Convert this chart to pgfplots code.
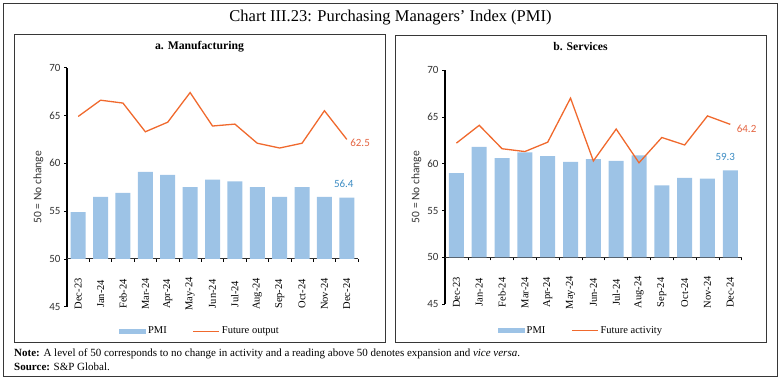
\documentclass[border=0pt]{standalone}
\usepackage{fontspec}
\setmainfont{Liberation Serif}
\newfontfamily\carlito{Carlito}
\usepackage{pgfplots}
\pgfplotsset{compat=1.18}
\definecolor{barblue}{RGB}{157,195,230}
\definecolor{lineor}{RGB}{240,105,45}
\definecolor{lblor}{RGB}{228,100,65}
\definecolor{lblblue}{RGB}{60,140,195}
\definecolor{frm}{RGB}{55,55,55}

\pgfplotsset{
  mainax/.style={scale only axis, anchor=south west,
    axis y line=left, axis x line=none,
    ymin=45, ymax=70, xmin=-0.5, xmax=12.5,
    ytick={45,50,...,70}, xtick=\empty,
    /pgf/number format/assume math mode=true,
    yticklabel style={font=\carlito\fontsize{11}{13}\selectfont, text=black!80},
    axis line style={-, line width=1.4pt, black},
    ytick style={line width=0.6pt, black},
    tick align=outside, major tick length=3pt,
    ylabel={50 = No change},
    ylabel style={font=\carlito\fontsize{11.5}{13}\selectfont, text=black!80, yshift=-1pt},
  },
  barax/.style={scale only axis, anchor=south west,
    axis x line=bottom, axis y line=none,
    ymin=50, ymax=70, xmin=-0.5, xmax=12.5,
    xtick={0,...,12}, ytick=\empty,
    xticklabels={Dec-23,Jan-24,Feb-24,Mar-24,Apr-24,May-24,Jun-24,Jul-24,Aug-24,Sep-24,Oct-24,Nov-24,Dec-24},
    major tick length=0pt,
    minor xtick={-0.5,0.5,...,12.5},
    minor tick length=3pt, tick align=outside,
    minor tick style={line width=0.6pt, black},
    axis line style={-, line width=0.9pt, black!80},
    xticklabel style={font=\fontsize{10.5}{12}\selectfont, yshift=-35pt, rotate=90, anchor=center},
    clip mode=individual,
    legend columns=2,
    legend style={draw=none, fill=none, anchor=center, font=\fontsize{10.5}{12}\selectfont,
      /tikz/every even column/.append style={column sep=24pt}},
  },
  barleg/.style={legend image code/.code={\fill[barblue] (0pt,-2.4pt) rectangle (27pt,2.4pt);}},
  lineleg/.style={legend image code/.code={\draw[lineor, line width=1.2pt] (0pt,0pt) -- (26pt,0pt);}},
}

\begin{document}
\begin{tikzpicture}
\useasboundingbox (0,0) rectangle (781pt,-380pt);
% frames
\draw[frm, line width=1pt] (3pt,-3pt) rectangle (777.5pt,-376.5pt);
\draw[frm, line width=1pt] (14pt,-34pt) rectangle (385pt,-342pt);
\draw[frm, line width=1pt] (395pt,-35pt) rectangle (766pt,-342pt);
% titles
\node[font=\fontsize{16.5}{19}\selectfont] at (390.5pt,-18pt) {Chart III.23: Purchasing Managers' Index (PMI)};
\node[font=\bfseries\fontsize{11.7}{13}\selectfont] at (199.5pt,-47pt) {a. Manufacturing};
\node[font=\bfseries\fontsize{11.7}{13}\selectfont] at (580.5pt,-47pt) {b. Services};
\node[anchor=west, font=\fontsize{11}{13}\selectfont, inner sep=0pt] at (14pt,-354pt) {\textbf{Note:} A level of 50 corresponds to no change in activity and a reading above 50 denotes expansion and \textit{vice versa}.};
\node[anchor=west, font=\fontsize{11}{13}\selectfont, inner sep=0pt] at (14pt,-366.5pt) {\textbf{Source:} S\&P Global.};

% ---------- a. Manufacturing ----------
\begin{axis}[mainax, at={(67pt,-306.7pt)}, width=291pt, height=239pt]
\end{axis}
\begin{axis}[barax, at={(67pt,-258.9pt)}, width=291pt, height=191.2pt,
  legend style={at={(0.457,-0.378)}}]
\addplot[barleg, ybar, bar width=15pt, bar shift=0pt, fill=barblue, draw=none] coordinates {
 (0,54.9) (1,56.5) (2,56.9) (3,59.1) (4,58.8) (5,57.5) (6,58.3) (7,58.1) (8,57.5) (9,56.5) (10,57.5) (11,56.5) (12,56.4)};
\addlegendentry{PMI}
\addplot[lineleg, lineor, line width=1.3pt, mark=none] coordinates {
 (0,64.9) (1,66.6) (2,66.3) (3,63.3) (4,64.3) (5,67.4) (6,63.9) (7,64.1) (8,62.1) (9,61.6) (10,62.1) (11,65.5) (12,62.5)};
\addlegendentry{Future output}
\node[anchor=west, font=\carlito\fontsize{11}{13}\selectfont, text=lblor, xshift=0pt, yshift=-3pt] at (axis cs:12,62.5) {62.5};
\node[anchor=south, font=\carlito\fontsize{11}{13}\selectfont, text=lblblue, xshift=-3pt, yshift=7pt] at (axis cs:12,56.4) {56.4};
\end{axis}

% ---------- b. Services ----------
\begin{axis}[mainax, at={(445pt,-304.3pt)}, width=296.7pt, height=234.3pt]
\end{axis}
\begin{axis}[barax, at={(445pt,-257.45pt)}, width=296.7pt, height=187.45pt,
  legend style={at={(0.458,-0.39)}}]
\addplot[barleg, ybar, bar width=15pt, bar shift=0pt, fill=barblue, draw=none] coordinates {
 (0,59.0) (1,61.8) (2,60.6) (3,61.2) (4,60.8) (5,60.2) (6,60.5) (7,60.3) (8,60.9) (9,57.7) (10,58.5) (11,58.4) (12,59.3)};
\addlegendentry{PMI}
\addplot[lineleg, lineor, line width=1.3pt, mark=none] coordinates {
 (0,62.2) (1,64.1) (2,61.6) (3,61.3) (4,62.3) (5,67.0) (6,60.3) (7,63.7) (8,60.1) (9,62.8) (10,62.0) (11,65.1) (12,64.2)};
\addlegendentry{Future activity}
\node[anchor=west, font=\carlito\fontsize{11}{13}\selectfont, text=lblor, xshift=3pt, yshift=-4pt] at (axis cs:12,64.2) {64.2};
\node[anchor=south, font=\carlito\fontsize{11}{13}\selectfont, text=lblblue, xshift=-5pt, yshift=6pt] at (axis cs:12,59.3) {59.3};
\end{axis}
\end{tikzpicture}
\end{document}
